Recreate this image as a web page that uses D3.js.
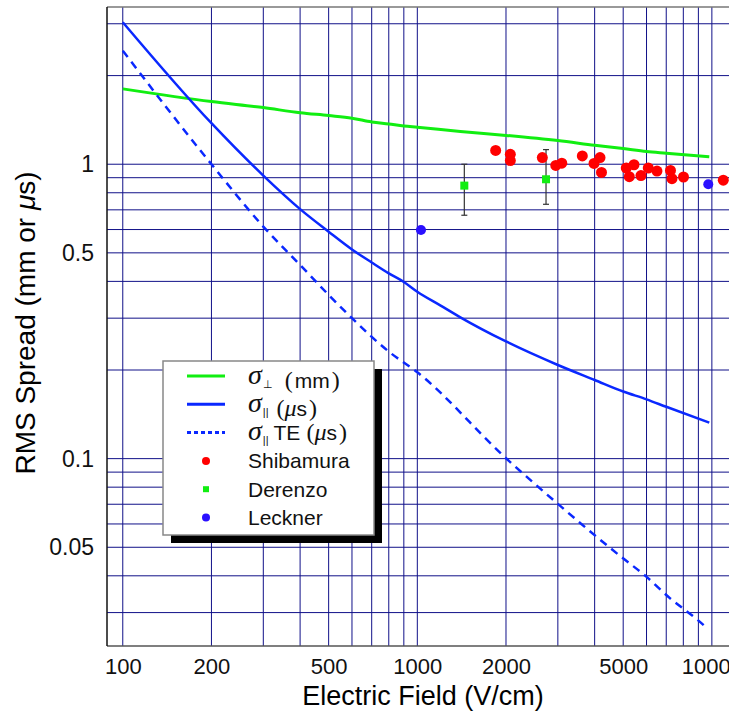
<!DOCTYPE html>
<html>
<head>
<meta charset="utf-8">
<script src="https://cdn.jsdelivr.net/npm/d3@7"></script>
<style>
  body { margin: 0; background: #fff; }
  svg { display: block; font-family: "Liberation Sans", Arial, sans-serif; }
</style>
</head>
<body>
<svg id="chart" width="729" height="711"></svg>
<script>
// ---- data ----
const xTickValues = [100, 200, 500, 1000, 2000, 5000, 10000];
const yTickValues = [1, 0.5, 0.1, 0.05];
const yTickLabels = ["1", "0.5", "0.1", "0.05"];

// sigma perpendicular (mm)
const perpField = [100, 200, 300, 400, 500, 600, 700, 800, 900, 1000, 1400, 2000, 3000, 4000, 5000, 6000, 7000, 9800];
const perpValue = [1.803, 1.632, 1.557, 1.496, 1.463, 1.433, 1.392, 1.370, 1.349, 1.336, 1.292, 1.253, 1.203, 1.160, 1.130, 1.104, 1.090, 1.061];

// sigma parallel (us)
const parField = [100, 200, 300, 400, 500, 600, 700, 800, 900, 1000, 1200, 1400, 2000, 3000, 4000, 5000, 6000, 7000, 9800];
const parValue = [3.036, 1.378, 0.915, 0.704, 0.590, 0.5135, 0.4638, 0.426, 0.3983, 0.369, 0.331, 0.302, 0.250, 0.208, 0.185, 0.169, 0.159, 0.150, 0.1325];

// sigma parallel TE (us)
const teField = [100, 200, 300, 400, 500, 600, 800, 1000, 2000, 3000, 4880, 5960, 7200, 8880, 9700];
const teValue = [2.43, 1.0, 0.614, 0.455, 0.360, 0.300, 0.231, 0.1965, 0.1003, 0.0702, 0.0467, 0.0399, 0.0336, 0.0285, 0.0264];

// Shibamura
const shibField = [1845, 2069, 2069, 2657, 2952, 3094, 3632, 3980, 4171, 4220, 5122, 5244, 5440, 5745, 6083, 6511, 7236, 7321, 8010, 10934];
const shibValue = [1.114, 1.081, 1.029, 1.053, 0.991, 1.008, 1.067, 1.006, 1.053, 0.938, 0.971, 0.907, 0.996, 0.915, 0.971, 0.948, 0.953, 0.893, 0.905, 0.883];

// Derenzo (with error bars)
const derField = [1444, 2735];
const derValue = [0.846, 0.889];
const derLow = [0.671, 0.731];
const derHigh = [1.0, 1.121];

// Leckner
const leckField = [1029, 9723];
const leckValue = [0.598, 0.855];

// ---- layout ----
const plot = { left: 107, right: 740, top: 7, bottom: 646 };
const xDomain = [88.4, 12460];
const yDomain = [0.0231, 3.42];

const green = "#11ee11";
const blue = "#0a28ff";
const red = "#ff0000";
const leckBlue = "#2a10ff";
const gridColor = "#101088";

const svg = d3.select("#chart");

const x = d3.scaleLog().domain(xDomain).range([plot.left, plot.right]);
const y = d3.scaleLog().domain(yDomain).range([plot.bottom, plot.top]);

// clip to plot area
svg.append("defs").append("clipPath").attr("id", "clip")
  .append("rect")
  .attr("x", plot.left).attr("y", plot.top)
  .attr("width", plot.right - plot.left).attr("height", plot.bottom - plot.top);

const g = svg.append("g").attr("clip-path", "url(#clip)");

// grid
const xGrid = x.ticks().filter(d => d >= 100 && d <= 10000);
const yGrid = y.ticks();

g.selectAll(".vgrid").data(xGrid).join("line")
  .attr("x1", d => x(d)).attr("x2", d => x(d))
  .attr("y1", plot.top).attr("y2", plot.bottom)
  .attr("stroke", gridColor).attr("stroke-width", 1);

g.selectAll(".hgrid").data(yGrid).join("line")
  .attr("x1", plot.left).attr("x2", plot.right)
  .attr("y1", d => y(d)).attr("y2", d => y(d))
  .attr("stroke", gridColor).attr("stroke-width", 1);

// curves
const line = d3.line().x(d => x(d[0])).y(d => y(d[1])).curve(d3.curveMonotoneX);

g.append("path")
  .datum(perpField.map((f, i) => [f, perpValue[i]]))
  .attr("d", line).attr("fill", "none")
  .attr("stroke", green).attr("stroke-width", 3);

g.append("path")
  .datum(parField.map((f, i) => [f, parValue[i]]))
  .attr("d", line).attr("fill", "none")
  .attr("stroke", blue).attr("stroke-width", 2.5);

g.append("path")
  .datum(teField.map((f, i) => [f, teValue[i]]))
  .attr("d", line).attr("fill", "none")
  .attr("stroke", blue).attr("stroke-width", 2.5)
  .attr("stroke-dasharray", "8,6");

// error bars
derField.forEach((f, i) => {
  const cx = x(f);
  g.append("line").attr("x1", cx).attr("x2", cx)
    .attr("y1", y(derHigh[i])).attr("y2", y(derLow[i]))
    .attr("stroke", "#333").attr("stroke-width", 1.2);
  [derHigh[i], derLow[i]].forEach(v => {
    g.append("line").attr("x1", cx - 3).attr("x2", cx + 3)
      .attr("y1", y(v)).attr("y2", y(v))
      .attr("stroke", "#333").attr("stroke-width", 1.2);
  });
});

// points
g.selectAll(".shib").data(shibField).join("circle")
  .attr("cx", d => x(d)).attr("cy", (d, i) => y(shibValue[i]))
  .attr("r", 5.5).attr("fill", red);

g.selectAll(".der").data(derField).join("rect")
  .attr("x", d => x(d) - 4).attr("y", (d, i) => y(derValue[i]) - 4)
  .attr("width", 8).attr("height", 8).attr("fill", green);

g.selectAll(".leck").data(leckField).join("circle")
  .attr("cx", d => x(d)).attr("cy", (d, i) => y(leckValue[i]))
  .attr("r", 5).attr("fill", leckBlue);

// frame
svg.append("line").attr("x1", plot.left).attr("x2", plot.right)
  .attr("y1", plot.top).attr("y2", plot.top).attr("stroke", "#777").attr("stroke-width", 1.5);
svg.append("line").attr("x1", plot.left).attr("x2", plot.right)
  .attr("y1", plot.bottom).attr("y2", plot.bottom).attr("stroke", "#555").attr("stroke-width", 1.5);
svg.append("line").attr("x1", plot.left).attr("x2", plot.left)
  .attr("y1", plot.top).attr("y2", plot.bottom).attr("stroke", "#111").attr("stroke-width", 1.5);

// axes labels
const xAxis = d3.axisBottom(x).tickValues(xTickValues).tickFormat(d3.format("d")).tickSize(0).tickPadding(12);
const xa = svg.append("g").attr("transform", `translate(0,${plot.bottom})`).call(xAxis);
xa.select(".domain").remove();
xa.selectAll("text").attr("font-size", 22).attr("fill", "#111").attr("font-family", "Liberation Sans, Arial, sans-serif");

const yAxis = d3.axisLeft(y).tickValues(yTickValues).tickFormat((d, i) => yTickLabels[i]).tickSize(0).tickPadding(13);
const ya = svg.append("g").attr("transform", `translate(${plot.left},0)`).call(yAxis);
ya.select(".domain").remove();
ya.selectAll("text").attr("font-size", 23).attr("fill", "#111").attr("font-family", "Liberation Sans, Arial, sans-serif");

// axis titles
svg.append("text")
  .attr("x", 423).attr("y", 705)
  .attr("text-anchor", "middle").attr("font-size", 27).attr("fill", "#000")
  .text("Electric Field (V/cm)");

const yt = svg.append("text")
  .attr("transform", "translate(35,323) rotate(-90)")
  .attr("text-anchor", "middle").attr("font-size", 28).attr("fill", "#000");
yt.append("tspan").text("RMS Spread (mm or ");
yt.append("tspan").attr("font-style", "italic").text("\u03bc");
yt.append("tspan").text("s)");

// legend
const leg = { x: 163, y: 361, w: 211, h: 174, rowY: 376, rowStep: 28.3 };
svg.append("rect").attr("x", leg.x + 8).attr("y", leg.y + 8)
  .attr("width", leg.w).attr("height", leg.h).attr("fill", "#000");
svg.append("rect").attr("x", leg.x).attr("y", leg.y)
  .attr("width", leg.w).attr("height", leg.h).attr("fill", "#fff")
  .attr("stroke", "#888").attr("stroke-width", 1.5);

const serif = "Liberation Serif, Times New Roman, serif";
const rowY = i => leg.rowY + i * leg.rowStep;

// line samples
[[green, null], [blue, null], [blue, "4,3"]].forEach(([c, dash], i) => {
  const l = svg.append("line").attr("x1", 187).attr("x2", 225)
    .attr("y1", rowY(i)).attr("y2", rowY(i))
    .attr("stroke", c).attr("stroke-width", 3);
  if (dash) l.attr("stroke-dasharray", dash);
});
svg.append("circle").attr("cx", 206).attr("cy", rowY(3)).attr("r", 4).attr("fill", red);
svg.append("rect").attr("x", 203).attr("y", rowY(4) - 3).attr("width", 6).attr("height", 6).attr("fill", green);
svg.append("circle").attr("cx", 206).attr("cy", rowY(5)).attr("r", 4).attr("fill", leckBlue);

function sigmaLabel(i, sub, middle, gap, unit) {
  const t = svg.append("text").attr("x", 248).attr("y", rowY(i)).attr("dy", "0.36em")
    .attr("font-size", 21).attr("fill", "#111");
  t.append("tspan").attr("font-family", serif).attr("font-style", "italic").attr("font-size", 28).text("\u03c3");
  t.append("tspan").attr("font-size", 11).attr("dy", 4).attr("dx", 1).text(sub);
  t.append("tspan").attr("dy", -4).attr("dx", middle ? 5 : 0).text(middle);
  t.append("tspan").attr("font-family", serif).attr("font-size", 24).attr("dx", gap).text("(");
  if (unit === "mm") {
    t.append("tspan").attr("dx", 2).text("mm");
  } else {
    t.append("tspan").attr("font-family", serif).attr("font-style", "italic").attr("font-size", 24).text("\u03bc");
    t.append("tspan").text("s");
  }
  t.append("tspan").attr("font-family", serif).attr("font-size", 24).attr("dx", 2).text(")");
}
sigmaLabel(0, "\u22a5", "", 12, "mm");
sigmaLabel(1, "||", "", 8, "us");
sigmaLabel(2, "||", "TE", 6, "us");

["Shibamura", "Derenzo", "Leckner"].forEach((name, k) => {
  svg.append("text").attr("x", 248).attr("y", rowY(k + 3)).attr("dy", "0.36em")
    .attr("font-size", 21).attr("fill", "#111").text(name);
});
</script>
</body>
</html>
